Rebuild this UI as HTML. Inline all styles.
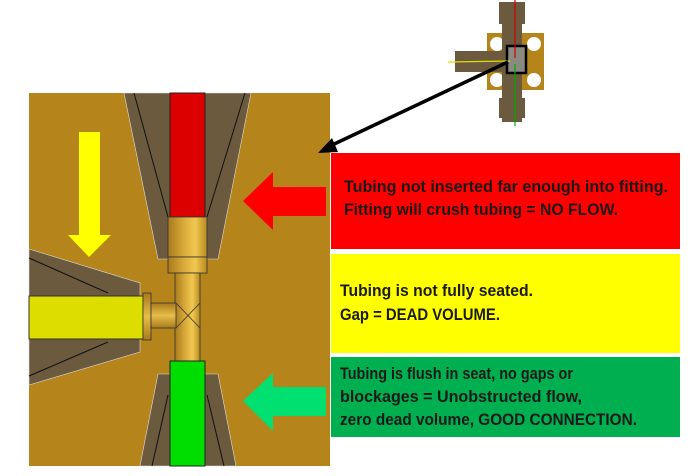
<!DOCTYPE html>
<html><head><meta charset="utf-8"><style>
html,body{margin:0;padding:0;background:#fff;width:700px;height:476px;overflow:hidden}
text{font-family:"Liberation Sans",sans-serif;font-weight:bold;fill:#1a1a1a}
</style></head><body>
<svg width="700" height="476" viewBox="0 0 700 476" xmlns="http://www.w3.org/2000/svg">
<defs>
<linearGradient id="br" x1="0" x2="1" y1="0" y2="0">
<stop offset="0" stop-color="#a87a1c"/><stop offset="0.4" stop-color="#d9aa3a"/><stop offset="0.7" stop-color="#f0c850"/><stop offset="1" stop-color="#b88a20"/></linearGradient>
<linearGradient id="brv" x1="0" x2="0" y1="0" y2="1">
<stop offset="0" stop-color="#a87a1c"/><stop offset="0.5" stop-color="#e8bd48"/><stop offset="1" stop-color="#a87a1c"/></linearGradient>
</defs>
<rect x="29" y="93" width="301" height="373" fill="#b5841a"/>
<polygon points="124,93 251,93 218,259 158,259" fill="#6b5a3e" stroke="#ddd" stroke-width="0.6"/>
<line x1="134" y1="93" x2="168" y2="217" stroke="#111" stroke-width="1"/>
<line x1="245" y1="93" x2="207" y2="217" stroke="#111" stroke-width="1"/>
<rect x="170" y="93" width="35" height="124" fill="#dd0000" stroke="#222" stroke-width="1"/>
<rect x="168" y="217" width="39" height="40" fill="url(#br)" stroke="#333" stroke-width="0.8"/>
<rect x="168" y="257" width="39" height="16" fill="url(#br)" stroke="#333" stroke-width="0.8"/>
<rect x="175" y="273" width="25" height="88" fill="url(#br)" stroke="#333" stroke-width="0.8"/>
<polygon points="29,249 140,283 140,352 29,385" fill="#6b5a3e" stroke="#ddd" stroke-width="0.6"/>
<line x1="29" y1="258" x2="108" y2="293" stroke="#111" stroke-width="1"/>
<line x1="29" y1="376" x2="108" y2="342" stroke="#111" stroke-width="1"/>
<rect x="29" y="296" width="114" height="43" fill="#dddd00" stroke="#333" stroke-width="1"/>
<rect x="143" y="293" width="8" height="47" fill="url(#brv)" stroke="#333" stroke-width="0.8"/>
<rect x="151" y="303" width="25" height="25" fill="url(#brv)" stroke="#333" stroke-width="0.8"/>
<line x1="176" y1="303" x2="200" y2="328" stroke="#333" stroke-width="0.8"/>
<line x1="200" y1="303" x2="176" y2="328" stroke="#333" stroke-width="0.8"/>
<polygon points="158,374 218,374 236,466 140,466" fill="#6b5a3e" stroke="#ddd" stroke-width="0.6"/>
<line x1="168" y1="395" x2="152" y2="466" stroke="#111" stroke-width="1"/>
<line x1="207" y1="395" x2="224" y2="466" stroke="#111" stroke-width="1"/>
<rect x="170" y="361" width="35" height="105" fill="#00dd00" stroke="#222" stroke-width="1"/>
<polygon points="79,132 100,132 100,235 111,235 89,257 68,235 79,235" fill="#ffff00"/>
<polygon points="243,201 273,172 273,187 326,187 326,216 273,216 273,230" fill="#ff0000"/>
<polygon points="243,401 273,373 273,387 326,387 326,416 273,416 273,431" fill="#00e070"/>
<rect x="331" y="153" width="349" height="96" fill="#ff0000"/>
<rect x="331" y="254" width="349" height="99" fill="#ffff00"/>
<rect x="331" y="357" width="349" height="80" fill="#00b050"/>
<text x="344" y="192" font-size="17" textLength="324" lengthAdjust="spacingAndGlyphs">Tubing not inserted far enough into fitting.</text>
<text x="344" y="215" font-size="17" textLength="274" lengthAdjust="spacingAndGlyphs">Fitting will crush tubing = NO FLOW.</text>
<text x="340" y="296" font-size="17" textLength="193" lengthAdjust="spacingAndGlyphs">Tubing is not fully seated.</text>
<text x="340" y="320" font-size="17" textLength="160" lengthAdjust="spacingAndGlyphs">Gap = DEAD VOLUME.</text>
<text x="340" y="379" font-size="17" textLength="233" lengthAdjust="spacingAndGlyphs">Tubing is flush in seat, no gaps or</text>
<text x="340" y="402" font-size="17" textLength="242" lengthAdjust="spacingAndGlyphs">blockages = Unobstructed flow,</text>
<text x="340" y="425" font-size="17" textLength="297" lengthAdjust="spacingAndGlyphs">zero dead volume, GOOD CONNECTION.</text>
<rect x="502" y="2" width="20" height="120" fill="#6b5a3e"/>
<rect x="499" y="2" width="26" height="22" fill="#6b5a3e"/>
<rect x="499" y="98" width="26" height="20" fill="#6b5a3e"/>
<rect x="487" y="33" width="57" height="57" fill="#b5841a"/>
<circle cx="497" cy="44" r="7" fill="#fff"/><circle cx="534" cy="44" r="7" fill="#fff"/>
<circle cx="497" cy="80" r="7" fill="#fff"/><circle cx="534" cy="80" r="7" fill="#fff"/>
<rect x="455" y="51" width="50" height="21" fill="#6b5a3e"/>
<rect x="502" y="33" width="20" height="57" fill="#6b5a3e"/>
<rect x="507" y="46" width="19" height="27" fill="#8a8a80" stroke="#000" stroke-width="2.5"/>
<line x1="515" y1="0" x2="515" y2="58" stroke="#cc0000" stroke-width="1.2"/>
<line x1="515" y1="64" x2="515" y2="126" stroke="#00aa00" stroke-width="1.2"/>
<line x1="448" y1="62" x2="510" y2="61" stroke="#dddd00" stroke-width="1.2"/>
<line x1="508" y1="62" x2="330" y2="146" stroke="#000" stroke-width="3.5"/>
<polygon points="318,153 332,138 338,152" fill="#000"/>
</svg>
</body></html>
